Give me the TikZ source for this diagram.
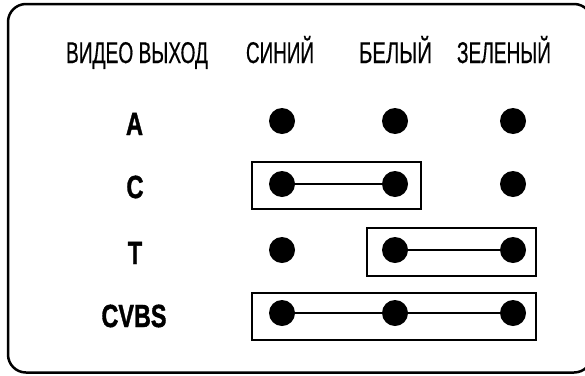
\documentclass[tikz,border=0pt]{standalone}
\usepackage{fontspec}
\setmainfont{Liberation Sans}
\newfontfamily\hdrfont{Liberation Sans}[FakeBold=0.6]
\newfontfamily\rowfont{Liberation Sans Bold}[FakeBold=1.5]
\usepackage{graphicx}
\newlength\fitlen
\newcommand\fitw[2]{\settowidth{\fitlen}{#2}\pgfmathsetmacro\fitratio{#1/\fitlen}\scalebox{\fitratio}[1]{#2}}
\begin{document}
\begin{tikzpicture}[x=1pt,y=-1pt,
  hdr/.style={font=\hdrfont\fontsize{30}{30}\selectfont, anchor=base, inner sep=0pt},
  rowlbl/.style={font=\rowfont\fontsize{32}{32}\selectfont, anchor=base, inner sep=0pt},
  dot/.style={circle, fill=black, draw=none, inner sep=0pt, minimum size=26pt},
  wire/.style={line width=2pt},
  frame/.style={line width=2.2pt},
  outer/.style={line width=2.5pt, rounded corners=18pt}]
\useasboundingbox (0,0) rectangle (585,375);
\clip (0,0) rectangle (585,375);
\fill[white] (0,0) rectangle (585,375);
\draw[outer] (8,4) rectangle (592,372.5);
% headers
\node[hdr] (hv) at (137,63) {\fitw{142pt}{ВИДЕО ВЫХОД}};
\node[hdr] (hs) at (280,63) {\fitw{68pt}{СИНИЙ}};
\node[hdr] (hb) at (395.5,63) {\fitw{73pt}{БЕЛЫЙ}};
\node[hdr] (hz) at (504,63) {\fitw{94pt}{ЗЕЛЕНЫЙ}};
% row labels
\node[rowlbl] (la) at (134.5,135) {\scalebox{0.74}[1]{A}};
\node[rowlbl] (lc) at (135,198) {\scalebox{0.74}[1]{C}};
\node[rowlbl] (lt) at (135,264) {\scalebox{0.74}[1]{T}};
\node[rowlbl] (lv) at (134,327) {\fitw{65pt}{CVBS}};
% dots
\node[dot] (a1) at (282,121) {};
\node[dot] (a2) at (395,121) {};
\node[dot] (a3) at (513,121) {};
\node[dot] (c1) at (282,184) {};
\node[dot] (c2) at (395,184) {};
\node[dot] (c3) at (513,184) {};
\node[dot] (t1) at (282,250) {};
\node[dot] (t2) at (395,250) {};
\node[dot] (t3) at (513,250) {};
\node[dot] (v1) at (282,313) {};
\node[dot] (v2) at (395,313) {};
\node[dot] (v3) at (513,313) {};
% wires
\draw[wire] (c1) -- (c2);
\draw[wire] (t2) -- (t3);
\draw[wire] (v1) -- (v2);
\draw[wire] (v2) -- (v3);
% frames
\draw[frame] (252,162) rectangle (421,209);
\draw[frame] (367,228) rectangle (536,276);
\draw[frame] (252,293) rectangle (536,340);
\end{tikzpicture}
\end{document}
